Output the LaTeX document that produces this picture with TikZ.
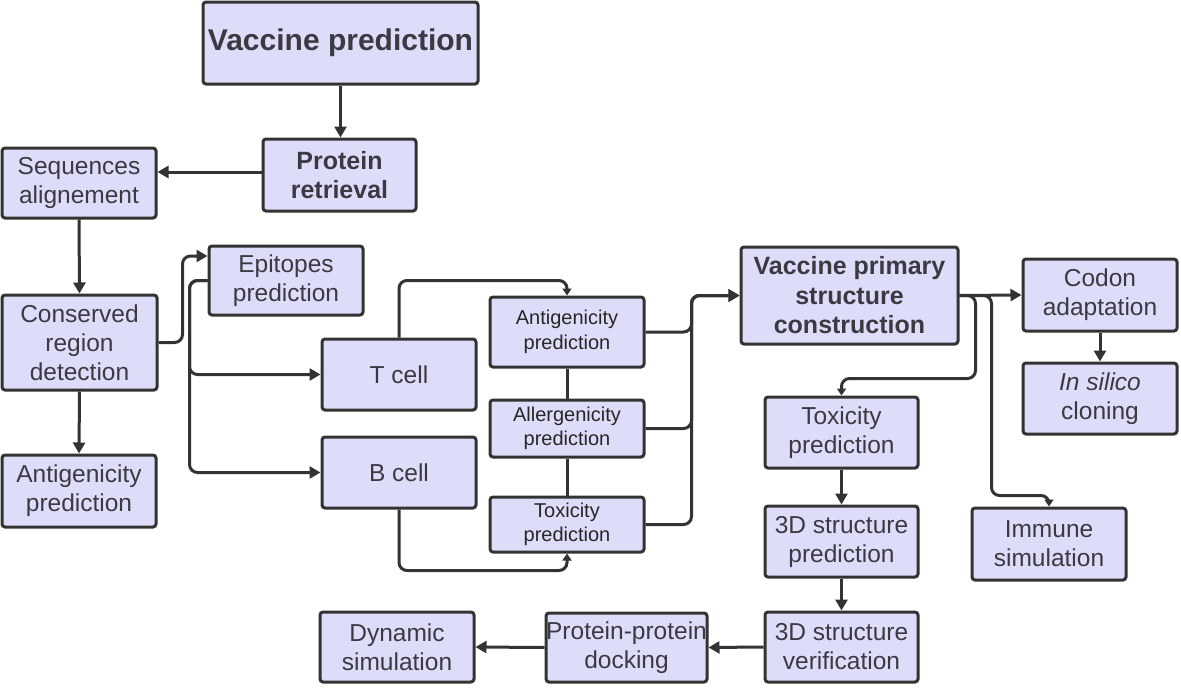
\documentclass[tikz,border=0pt]{standalone}
\usepackage{fontspec}
\setmainfont{Liberation Sans}
\usetikzlibrary{arrows.meta,calc}
\definecolor{boxfill}{RGB}{221,221,250}
\definecolor{linec}{RGB}{51,51,51}
\definecolor{txt}{RGB}{58,58,66}
\tikzset{
  box/.style={draw=linec, line width=3pt, fill=boxfill, rounded corners=3pt, text=txt,
    align=center, inner sep=0pt, font=\fontsize{24.5}{29}\selectfont},
  boldbox/.style={box, font=\fontsize{25}{29.5}\selectfont\bfseries},
  smallbox/.style={box, text=black!85, font=\fontsize{20}{24.5}\selectfont},
  conn/.style={draw=linec, line width=3pt, rounded corners=8pt},
  arr/.style={conn, -{Triangle[length=11pt,width=12pt]}},
  sarr/.style={conn, -{Triangle[length=7pt,width=9pt]}}
}
\begin{document}
\begin{tikzpicture}[x=1pt,y=-1pt]
\useasboundingbox (0,0) rectangle (1181,688);
\fill[white] (0,0) rectangle (1181,688);
% nodes
\node[boldbox, font=\fontsize{30}{35}\selectfont\bfseries, minimum width=275pt, minimum height=82pt] (vp) at (340.5,43) {Vaccine prediction};
\node[boldbox, minimum width=153pt, minimum height=72pt] (pr) at (339.5,175) {Protein\\retrieval};
\node[box, minimum width=154pt, minimum height=70pt] (sa) at (79,183) {Sequences\\alignement};
\node[box, minimum width=155pt, minimum height=95pt] (crd) at (79.5,342.5) {Conserved\\region\\detection};
\node[box, minimum width=154pt, minimum height=72pt] (ap1) at (79,491) {Antigenicity\\prediction};
\node[box, minimum width=154pt, minimum height=69pt] (ep) at (286,280.5) {Epitopes\\prediction};
\node[box, minimum width=154pt, minimum height=71pt] (tc) at (399,374.5) {T cell};
\node[box, minimum width=154pt, minimum height=71pt] (bc) at (399,472.5) {B cell};
\node[smallbox, minimum width=154pt, minimum height=70pt] (ag2) at (567,332) {Antigenicity\\prediction};
\node[smallbox, minimum width=154pt, minimum height=57pt] (al) at (567,428.5) {Allergenicity\\prediction};
\node[smallbox, minimum width=154pt, minimum height=55pt] (tx2) at (567,524.5) {Toxicity\\prediction};
\node[boldbox, minimum width=217pt, minimum height=97pt] (vpsc) at (849.5,295.5) {Vaccine primary\\structure\\construction};
\node[box, minimum width=154pt, minimum height=72pt] (ca) at (1100,295) {Codon\\adaptation};
\node[box, minimum width=154pt, minimum height=71pt] (isc) at (1100,398.5) {\textit{In silico}\\cloning};
\node[box, minimum width=153pt, minimum height=71pt] (tx3) at (841.5,432.5) {Toxicity\\prediction};
\node[box, minimum width=153pt, minimum height=71pt] (sp3) at (841.5,541.5) {3D structure\\prediction};
\node[box, minimum width=154pt, minimum height=72pt] (im) at (1049,544) {Immune\\simulation};
\node[box, minimum width=153pt, minimum height=70pt] (sv3) at (841.5,647) {3D structure\\verification};
\node[box, minimum width=161pt, minimum height=69pt] (ppd) at (626.5,647.5) {Protein-protein\\docking};
\node[box, minimum width=154pt, minimum height=70pt] (ds) at (397,647) {Dynamic\\simulation};
% connectors
\draw[arr] (vp.south) -- (vp.south |- pr.north);
\draw[arr] ([yshift=3pt]pr.west) -- ([yshift=3pt]sa.east |- pr.west);
\draw[arr] (sa.south) -- (crd.north);
\draw[arr] (crd.south) -- (ap1.north);
\draw[arr] (crd.east) -- ++(24,0) |- ([yshift=24.5pt]ep.west);
\draw[arr] (ep.west) -- ++(-18,0) |- (tc.west);
\draw[arr] (ep.west) -- ++(-18,0) |- (bc.west);
\draw[sarr] (tc.north) -- ++(0,-57) -| (ag2.north);
\draw[sarr] (bc.south) -- ++(0,61) -| (tx2.south);
\draw[conn] (ag2.south) -- (al.north);
\draw[conn] (al.south) -- (tx2.north);
\draw[arr] (ag2.east) -- ++(46,0) |- (vpsc.west);
\draw[arr] (al.east) -- ++(46,0) |- (vpsc.west);
\draw[arr] (tx2.east) -- ++(46,0) |- (vpsc.west);
\draw[arr] (vpsc.east) -- (ca.west);
\draw[sarr] (vpsc.east) -- ++(16,0) -- ++(0,83) -| (tx3.north);
\draw[sarr] (vpsc.east) -- ++(32,0) -- ++(0,200) -| (im.north);
\draw[arr] (ca.south) -- (isc.north);
\draw[arr] (tx3.south) -- (sp3.north);
\draw[arr] (sp3.south) -- (sv3.north);
\draw[arr] (sv3.west) -- (ppd.east);
\draw[arr] (ppd.west) -- (ds.east);
\end{tikzpicture}
\end{document}
